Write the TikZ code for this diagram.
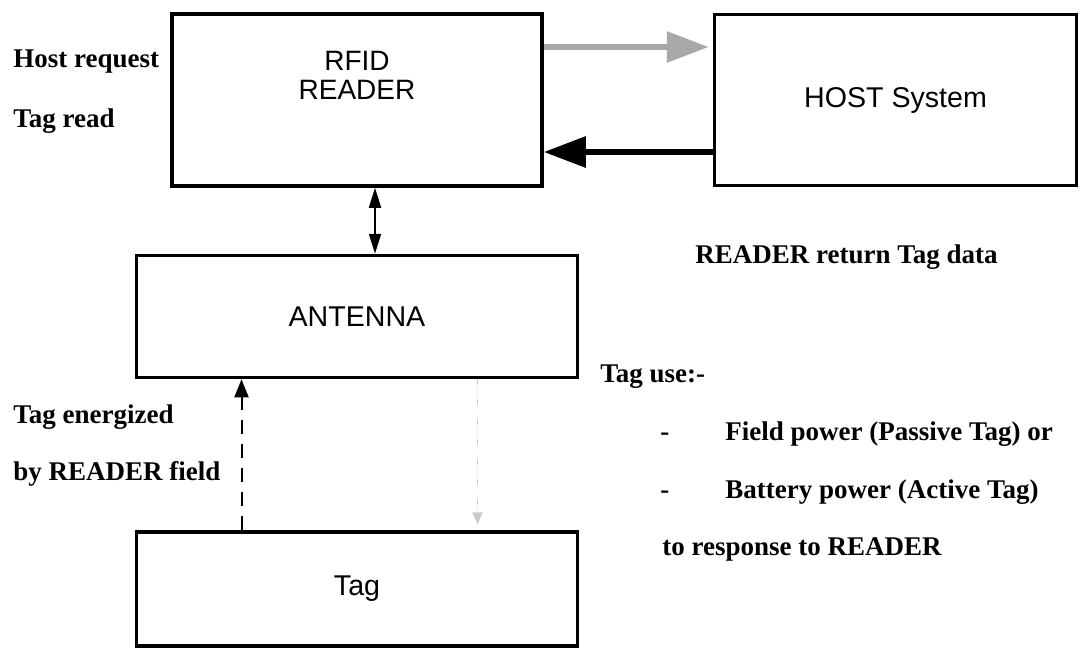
\documentclass[tikz,border=0pt]{standalone}
\usepackage{fontspec}
\setmainfont{Liberation Serif}
\setsansfont{Liberation Sans}
\usepackage{tikz}
\usetikzlibrary{arrows.meta,positioning}
\definecolor{reqgray}{RGB}{168,168,168}
\definecolor{fieldgray}{RGB}{200,200,200}

\begin{document}
\begin{tikzpicture}[
    x=0.5pt, y=-0.5pt,
    >=Latex,
    block/.style={
        rectangle,
        draw=black,
        line width=1.75pt,
        minimum width=185pt,
        minimum height=86pt,
        inner sep=0pt,
        font=\sffamily\fontsize{14.3}{15}\selectfont,
        align=center
    },
    note/.style={
        anchor=base west,
        inner sep=0pt,
        font=\bfseries\fontsize{13.5}{16}\selectfont
    },
    bigtip/.style={-{Triangle[length=21pt,width=15pt]}, line width=3pt}
]
\useasboundingbox (0,0) rectangle (1083,649);

\node[block] (reader) at (357,100) {};
\node[align=center, inner sep=0pt, font=\sffamily\fontsize{14}{14.5}\selectfont]
    (readertxt) at ([yshift=12.5pt]reader.center) {RFID\\READER};
\node[block, right=84.5pt of reader, minimum width=181pt, minimum height=85.5pt] (host) {HOST System};
\node[block, below=33pt of reader, minimum width=220.5pt, minimum height=61pt] (antenna) {ANTENNA};
\node[block, below=75.5pt of antenna, minimum width=220.5pt, minimum height=57pt] (tag) {Tag};

\draw[bigtip, draw=reqgray, fill=reqgray, shorten >=2pt]
    ([yshift=26.5pt]reader.east) -- ([yshift=26.5pt]reader.east -| host.west);
\draw[bigtip] ([yshift=-26pt]host.west) -- ([yshift=-26pt]host.west -| reader.east);
\draw[{Triangle[length=10pt,width=6pt]}-{Triangle[length=10pt,width=6pt]}, line width=1pt]
    ([xshift=9pt]reader.south) -- ([xshift=9pt]reader.south |- antenna.north);
\draw[-{Triangle[length=9pt,width=7pt]}, line width=1pt, dash pattern=on 7pt off 5pt]
    ([xshift=-57.75pt]tag.north) -- ([xshift=-57.75pt]tag.north |- antenna.south);
\draw[-{Triangle[length=6pt,width=5pt]}, line width=0.8pt, draw=fieldgray, fill=fieldgray,
    dash pattern=on 3pt off 7pt, shorten >=3pt]
    ([xshift=60.25pt]antenna.south) -- ([xshift=60.25pt]antenna.south |- tag.north);

\node[note] (hostreq) at (13,67) {Host request};
\node[note] (tagread) at (13,127) {Tag read};
\node[note] (readret) at (695,263) {READER return Tag data};
\node[note] (taguse) at (600,382) {Tag use:-};
\node[note] (dashone) at (660,440) {-};
\node[note] (fieldpwr) at (725,440) {Field power (Passive Tag) or};
\node[note] (dashtwo) at (660,498) {-};
\node[note] (battpwr) at (725,498) {Battery power (Active Tag)};
\node[note] (respond) at (662,555) {to response to READER};
\node[note] (energ) at (13,423) {Tag energized};
\node[note] (byfield) at (13,480) {by READER field};
\end{tikzpicture}
\end{document}
